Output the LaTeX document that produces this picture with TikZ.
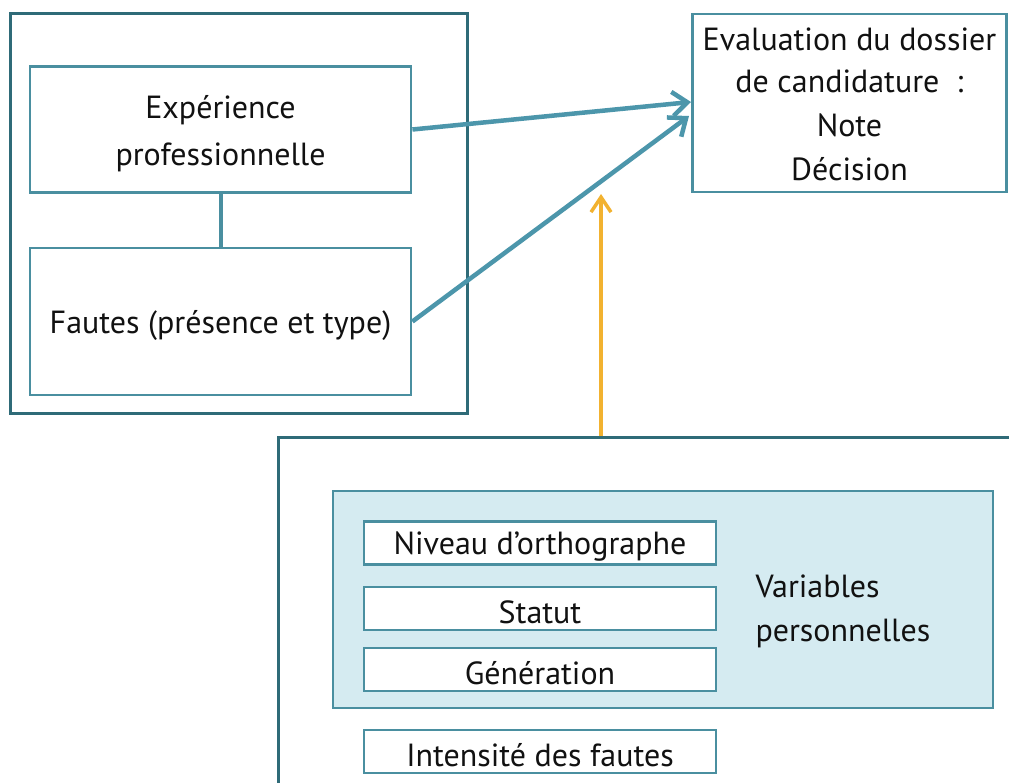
\documentclass[tikz,border=0pt]{standalone}
\usepackage{fontspec}
\setmainfont{PT Sans}
\usetikzlibrary{arrows.meta}
\definecolor{darkteal}{HTML}{2F6B78}
\definecolor{teal2}{HTML}{4A8FA0}
\definecolor{arrowteal}{HTML}{4C96AB}
\definecolor{lightfill}{HTML}{D5EBF1}
\definecolor{orangearr}{HTML}{F2B230}
\definecolor{txt}{HTML}{111111}
\newcommand{\dn}[1]{\raisebox{-4pt}[\height][\depth]{#1}}
\tikzset{
  outerbox/.style={draw=darkteal, line width=3pt, inner sep=0pt},
  innerbox/.style={draw=teal2, line width=2.8pt, fill=white, inner sep=0pt, text=txt, align=center,
     font=\fontsize{32}{47}\selectfont},
  smallbox/.style={draw=teal2, line width=2.6pt, fill=white, inner sep=0pt, text=txt,
     minimum width=352pt, minimum height=43pt, font=\fontsize{32}{34}\selectfont},
  conn/.style={draw=arrowteal, line width=4.5pt},
  arr/.style={conn, -{Straight Barb[length=15pt,width=24pt,line width=4.5pt]}},
  orarr/.style={draw=orangearr, line width=3.5pt, -{Straight Barb[length=15pt,width=20pt,line width=3.5pt]}},
}
\begin{document}
\begin{tikzpicture}[x=1pt,y=-1pt]
\useasboundingbox (0,0) rectangle (1009,782);
\fill[white] (0,0) rectangle (1009,782);
\clip (0,0) rectangle (1009,782);
% outer left box
\node[outerbox, minimum width=457pt, minimum height=400pt] (left) at (238.5,213) {};
\node[innerbox, minimum width=381pt, minimum height=126pt] (exp) at (220.5,129.5) {\dn{Expérience}\\\dn{professionnelle}};
\node[innerbox, minimum width=381pt, minimum height=147pt] (fautes) at (220.5,321.5) {\dn{Fautes (présence et type)}};
\draw[conn, line width=4pt, draw=teal2] (exp.south) -- (fautes.north);
% evaluation box
\node[innerbox, minimum width=314pt, minimum height=178pt, font=\fontsize{32}{44}\selectfont] (eval) at (849.5,103) {\raisebox{-2pt}[\height][\depth]{Evaluation du dossier}\\de candidature~~:\\Note\\Décision};
% bottom big box
\node[outerbox, minimum width=800pt, minimum height=400pt] (big) at (678,637) {};
% variables box
\node[draw=teal2, line width=2.6pt, fill=lightfill, minimum width=660pt, minimum height=217pt, inner sep=0pt] (vars) at (663,599.5) {};
\node[smallbox] (niv) at (540,543) {\dn{Niveau d’orthographe}};
\node[smallbox] (stat) at (540,608.5) {\dn{Statut}};
\node[smallbox] (gen) at (540,669.5) {\dn{Génération}};
\node[smallbox] (int) at (540,751.5) {\dn{Intensité des fautes}};
\node[text=txt, align=left, font=\fontsize{32}{44}\selectfont, anchor=west] (vp) at (752,611) {Variables\\personnelles};
% connectors
\coordinate (t1) at (691,102);
\coordinate (t2) at (689,116);
\draw[arr] (exp.east) -- (t1);
\draw[arr] (fautes.east) -- (t2);
\coordinate (o1) at (601,436);
\coordinate (o2) at (601,194);
\draw[orarr] (o1) -- (o2);
\end{tikzpicture}
\end{document}
